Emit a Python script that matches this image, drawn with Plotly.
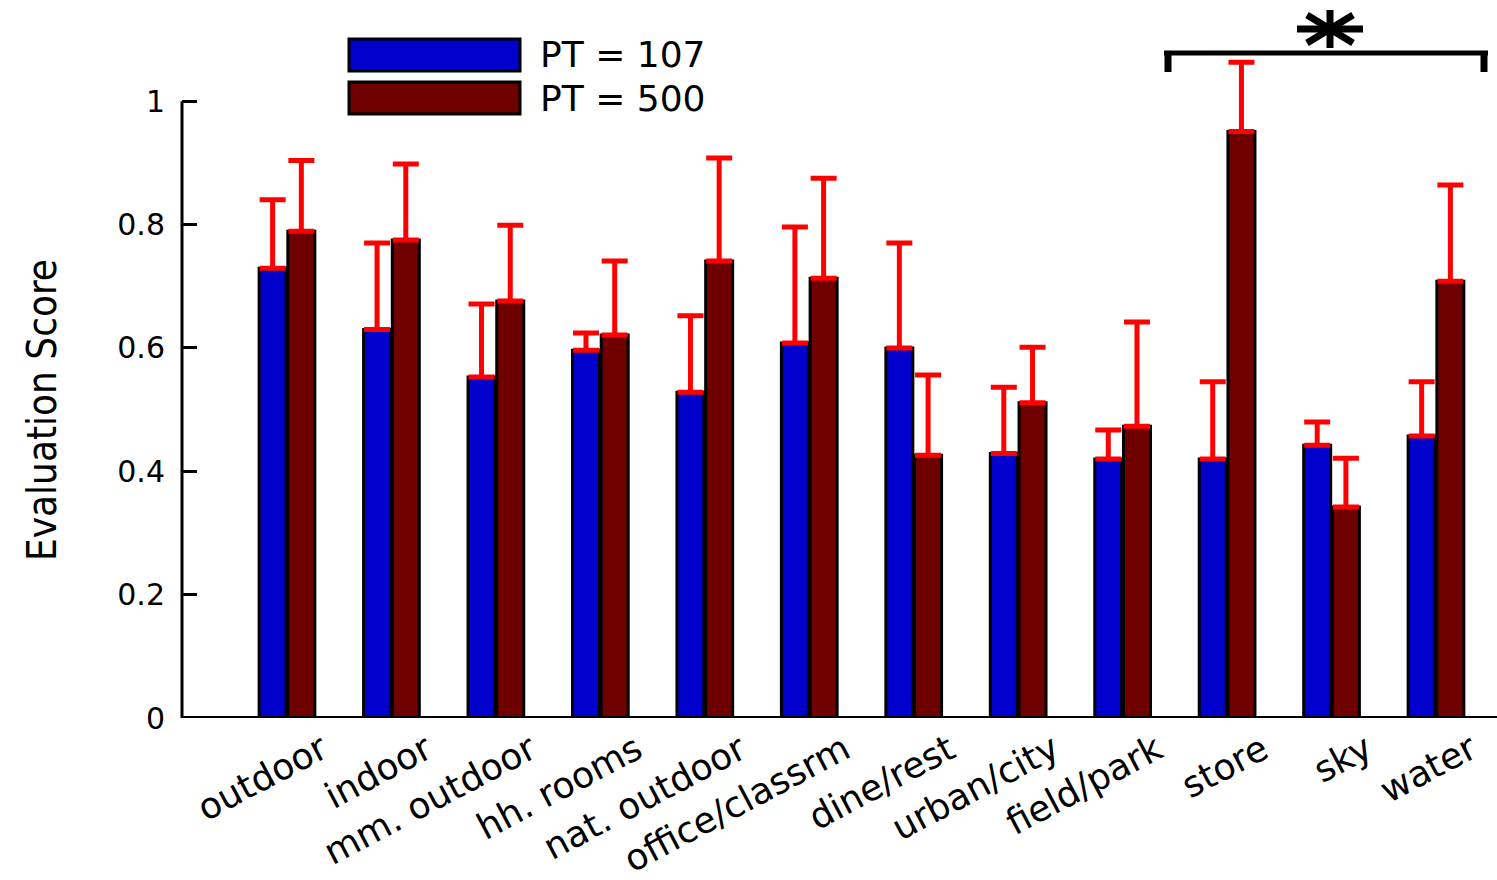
import plotly.graph_objects as go

categories = ["outdoor", "indoor", "mm. outdoor", "hh. rooms", "nat. outdoor",
              "office/classrm", "dine/rest", "urban/city", "field/park",
              "store", "sky", "water"]
pt107 = [0.729, 0.630, 0.553, 0.596, 0.528, 0.608, 0.600, 0.429, 0.420, 0.420, 0.442, 0.457]
pt107_err_top = [0.840, 0.770, 0.671, 0.624, 0.652, 0.796, 0.770, 0.536, 0.467, 0.545, 0.480, 0.545]
pt500 = [0.789, 0.775, 0.676, 0.621, 0.741, 0.713, 0.426, 0.511, 0.473, 0.951, 0.342, 0.708]
pt500_err_top = [0.904, 0.898, 0.799, 0.741, 0.908, 0.875, 0.556, 0.601, 0.642, 1.063, 0.421, 0.864]
series_names = ["PT = 107", "PT = 500"]
y_ticks = [0, 0.2, 0.4, 0.6, 0.8, 1]
y_ticktext = ["0", "0.2", "0.4", "0.6", "0.8", "1"]
y_title = "Evaluation Score"

W, H = 1497, 880
ML, MR, MT, MB = 182, 0, 0, 162
PW, PH = W - ML - MR, H - MT - MB


def px(x):
    return (x - ML) / PW


def py(y):
    return (H - MB - y) / PH


xs = list(range(len(categories)))
blue = "#0000CC"
dred = "#6E0000"
errc = "#FF0000"

fig = go.Figure()
for vals, tops, col, name in [(pt107, pt107_err_top, blue, series_names[0]),
                              (pt500, pt500_err_top, dred, series_names[1])]:
    fig.add_trace(go.Bar(
        x=xs, y=vals, name=name, showlegend=False, hoverinfo="skip",
        marker=dict(color=col, line=dict(color="black", width=3)),
        error_y=dict(type="data", symmetric=False,
                     array=[t - v for t, v in zip(tops, vals)],
                     arrayminus=[0] * len(vals),
                     color=errc, thickness=5, width=13),
    ))

shapes = []
# y axis line spanning 0..1
shapes.append(dict(type="line", xref="paper", yref="y", x0=0, x1=0, y0=0, y1=1,
                   line=dict(color="black", width=3)))
# x axis line
shapes.append(dict(type="line", xref="paper", yref="y", x0=0, x1=1, y0=0, y1=0,
                   line=dict(color="black", width=4)))
# legend patches
shapes.append(dict(type="rect", xref="paper", yref="paper", x0=px(349), x1=px(520),
                   y0=py(71), y1=py(39), fillcolor=blue, line=dict(color="black", width=3)))
shapes.append(dict(type="rect", xref="paper", yref="paper", x0=px(349), x1=px(520),
                   y0=py(114), y1=py(82), fillcolor=dred, line=dict(color="black", width=3)))
# significance bracket
shapes.append(dict(type="line", xref="paper", yref="paper", x0=px(1164), x1=px(1488),
                   y0=py(53), y1=py(53), line=dict(color="black", width=5)))
shapes.append(dict(type="line", xref="paper", yref="paper", x0=px(1168), x1=px(1168),
                   y0=py(53), y1=py(72), line=dict(color="black", width=7)))
shapes.append(dict(type="line", xref="paper", yref="paper", x0=px(1484), x1=px(1484),
                   y0=py(53), y1=py(72), line=dict(color="black", width=7)))
# star
for (x0, y0, x1, y1) in [(1330, 10, 1330, 48), (1297, 29, 1363, 29),
                         (1307, 15, 1353, 43), (1307, 43, 1353, 15)]:
    shapes.append(dict(type="line", xref="paper", yref="paper", x0=px(x0), x1=px(x1),
                       y0=py(y0), y1=py(y1), line=dict(color="black", width=7)))

annotations = [
    dict(text=series_names[0], xref="paper", yref="paper", x=px(538), y=py(55),
         xanchor="left", yanchor="middle", showarrow=False,
         font=dict(family="DejaVu Sans", size=36, color="black")),
    dict(text=series_names[1], xref="paper", yref="paper", x=px(538), y=py(98),
         xanchor="left", yanchor="middle", showarrow=False,
         font=dict(family="DejaVu Sans", size=36, color="black")),
    dict(text=y_title, xref="paper", yref="paper", x=px(42), y=py(410),
         xanchor="center", yanchor="middle", textangle=-90, showarrow=False,
         font=dict(family="DejaVu Sans Condensed, Liberation Sans Narrow, DejaVu Sans",
                   size=40, color="black")),
]
# category labels, rotated, top-right corner just below the axis
for i, lab in enumerate(categories):
    annotations.append(dict(text=lab, xref="x", yref="paper", x=i, y=0,
                            xanchor="right", yanchor="top", xshift=50, yshift=-6,
                            textangle=-28, showarrow=False,
                            font=dict(family="DejaVu Sans", size=36, color="black")))

fig.update_layout(
    width=W, height=H,
    margin=dict(l=ML, r=MR, t=MT, b=MB, pad=0),
    plot_bgcolor="white", paper_bgcolor="white",
    barmode="group", bargap=0.45, bargroupgap=0.06,
    shapes=shapes, annotations=annotations,
    xaxis=dict(range=[-1.005, 11.584], tickvals=xs, showticklabels=False,
               showgrid=False, zeroline=False, showline=False, ticks=""),
    yaxis=dict(range=[0, 1.164], tickvals=y_ticks, ticktext=y_ticktext,
               showgrid=False, zeroline=False, showline=False,
               ticks="inside", ticklen=15, tickwidth=3, tickcolor="black",
               ticklabelstandoff=16,
               tickfont=dict(family="DejaVu Sans", size=30, color="black")),
)

fig.write_html("out.html", config={"displayModeBar": False},
               post_script="document.body.style.margin='0';document.body.style.overflow='hidden';")
